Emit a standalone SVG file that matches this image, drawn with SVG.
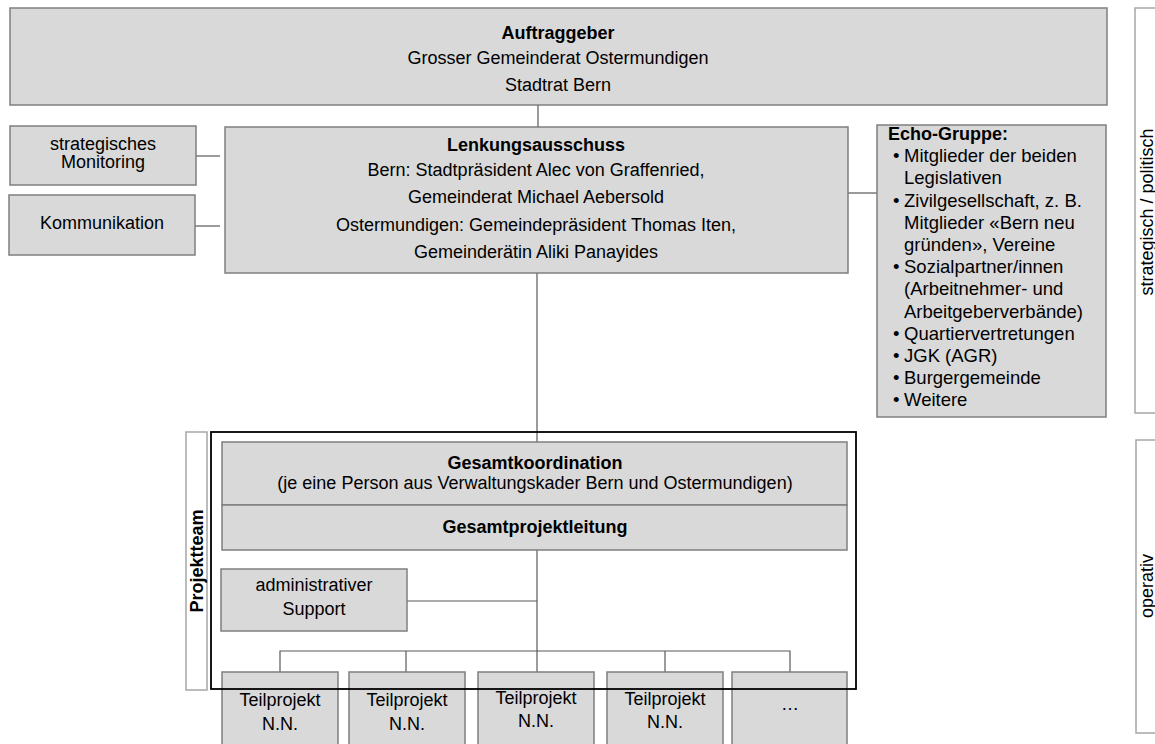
<svg xmlns="http://www.w3.org/2000/svg" width="1155" height="744" viewBox="0 0 1155 744">
<style>
.box{fill:#d9d9d9;stroke:#7f7f7f;stroke-width:1.5}
.panel{fill:#fff;stroke:#a6a6a6;stroke-width:1.5}
.frame{fill:none;stroke:#000;stroke-width:1.8}
.con{fill:none;stroke:#595959;stroke-width:1.2}
text{font-family:"Liberation Sans",Arial,sans-serif;font-size:18px;fill:#000}
.c{text-anchor:middle}
.b{font-weight:bold}
.e{font-size:18.5px}
</style>
<rect width="1155" height="744" fill="#fff"/>
<g id="panel-strategisch">
<rect class="panel" x="1135" y="8" width="40" height="405"/>
<text class="c" x="1147" y="218" transform="rotate(-90 1147 212)">strategisch / politisch</text>
</g>
<g id="panel-operativ">
<rect class="panel" x="1136" y="440" width="40" height="293"/>
<text class="c" x="1147" y="592" transform="rotate(-90 1147 586)">operativ</text>
</g>
<g id="connectors">
<line class="con" x1="538" y1="105" x2="538" y2="127"/>
<line class="con" x1="196" y1="156" x2="220" y2="156"/>
<line class="con" x1="195" y1="226" x2="220" y2="226"/>
<line class="con" x1="848" y1="193" x2="877" y2="193"/>
<line class="con" x1="537" y1="273" x2="537" y2="442"/>
<line class="con" x1="537" y1="550" x2="537" y2="651"/>
<line class="con" x1="407" y1="601" x2="537" y2="601"/>
<polyline class="con" points="280,672 280,651 790,651 790,672"/>
<line class="con" x1="406" y1="651" x2="406" y2="672"/>
<line class="con" x1="537" y1="651" x2="537" y2="672"/>
<line class="con" x1="665" y1="651" x2="665" y2="672"/>
</g>
<g id="auftraggeber">
<rect class="box" x="10" y="8" width="1097" height="97"/>
<text class="c b" x="558" y="39">Auftraggeber</text>
<text class="c" x="558" y="64">Grosser Gemeinderat Ostermundigen</text>
<text class="c" x="558" y="91">Stadtrat Bern</text>
</g>
<g id="monitoring">
<rect class="box" x="10" y="126" width="186" height="59"/>
<text class="c" x="103" y="150">strategisches</text>
<text class="c" x="103" y="168">Monitoring</text>
</g>
<g id="kommunikation">
<rect class="box" x="9" y="195" width="186" height="60"/>
<text class="c" x="102" y="229">Kommunikation</text>
</g>
<g id="lenkungsausschuss">
<rect class="box" x="225" y="127" width="623" height="146"/>
<text class="c b" x="536" y="151">Lenkungsausschuss</text>
<text class="c" x="536" y="176">Bern: Stadtpräsident Alec von Graffenried,</text>
<text class="c" x="536" y="203">Gemeinderat Michael Aebersold</text>
<text class="c" x="536" y="231">Ostermundigen: Gemeindepräsident Thomas Iten,</text>
<text class="c" x="536" y="258">Gemeinderätin Aliki Panayides</text>
</g>
<g id="echo-gruppe">
<rect class="box" x="877" y="125" width="229" height="292"/>
<text class="b" x="888" y="140">Echo-Gruppe:</text>
<text class="e" y="162"><tspan x="893">•</tspan><tspan x="904">Mitglieder der beiden</tspan></text>
<text class="e" x="904" y="184">Legislativen</text>
<text class="e" y="207"><tspan x="893">•</tspan><tspan x="904">Zivilgesellschaft, z. B.</tspan></text>
<text class="e" x="904" y="229">Mitglieder «Bern neu</text>
<text class="e" x="904" y="251">gründen», Vereine</text>
<text class="e" y="273"><tspan x="893">•</tspan><tspan x="904">Sozialpartner/innen</tspan></text>
<text class="e" x="904" y="295">(Arbeitnehmer- und</text>
<text class="e" x="904" y="318">Arbeitgeberverbände)</text>
<text class="e" y="340"><tspan x="893">•</tspan><tspan x="904">Quartiervertretungen</tspan></text>
<text class="e" y="362"><tspan x="893">•</tspan><tspan x="904">JGK (AGR)</tspan></text>
<text class="e" y="384"><tspan x="893">•</tspan><tspan x="904">Burgergemeinde</tspan></text>
<text class="e" y="406"><tspan x="893">•</tspan><tspan x="904">Weitere</tspan></text>
</g>
<g id="projektteam-label">
<rect class="panel" x="186" y="432" width="21" height="258"/>
<text class="c b" x="197" y="567" transform="rotate(-90 197 561)">Projektteam</text>
</g>
<g id="gesamtkoordination">
<rect class="box" x="222" y="442" width="625" height="63"/>
<text class="c b" x="535" y="469">Gesamtkoordination</text>
<text class="c" x="535" y="489">(je eine Person aus Verwaltungskader Bern und Ostermundigen)</text>
</g>
<g id="gesamtprojektleitung">
<rect class="box" x="222" y="505" width="625" height="45"/>
<text class="c b" x="535" y="533">Gesamtprojektleitung</text>
</g>
<g id="support">
<rect class="box" x="221" y="569" width="186" height="62"/>
<text class="c" x="314" y="591">administrativer</text>
<text class="c" x="314" y="615">Support</text>
</g>
<g id="teilprojekt-1">
<rect class="box" x="222" y="672" width="116" height="80"/>
<text class="c" x="280" y="706">Teilprojekt</text>
<text class="c" x="280" y="730">N.N.</text>
</g>
<g id="teilprojekt-2">
<rect class="box" x="349" y="672" width="116" height="80"/>
<text class="c" x="407" y="706">Teilprojekt</text>
<text class="c" x="407" y="730">N.N.</text>
</g>
<g id="teilprojekt-3">
<rect class="box" x="478" y="672" width="116" height="80"/>
<text class="c" x="536" y="704">Teilprojekt</text>
<text class="c" x="536" y="727">N.N.</text>
</g>
<g id="teilprojekt-4">
<rect class="box" x="607" y="672" width="116" height="80"/>
<text class="c" x="665" y="705">Teilprojekt</text>
<text class="c" x="665" y="728">N.N.</text>
</g>
<g id="teilprojekt-5">
<rect class="box" x="732" y="672" width="115" height="80"/>
<text class="c" x="790" y="710">…</text>
</g>
<g id="projektteam-frame">
<rect class="frame" x="211" y="432" width="645" height="257"/>
</g>
</svg>
